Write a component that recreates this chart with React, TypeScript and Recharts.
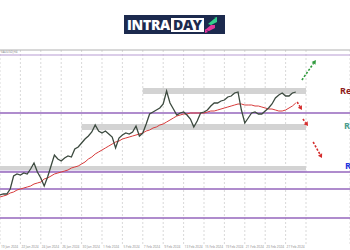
import {
  ComposedChart,
  CartesianGrid,
  Line,
  ReferenceArea,
  ReferenceLine,
  XAxis,
  YAxis,
} from "recharts";

// closes (one value per bar)
const closes = [
  1850, 1851, 1851, 1856, 1869, 1871, 1870, 1872, 1871, 1876, 1882, 1873,
  1867, 1859, 1868, 1879, 1890, 1886, 1884, 1887, 1889, 1888, 1896, 1898,
  1902, 1906, 1909, 1913, 1920, 1914, 1912, 1914, 1911, 1908, 1897, 1907,
  1910, 1912, 1911, 1913, 1919, 1909, 1912, 1921, 1931, 1933, 1935, 1937,
  1941, 1954, 1942, 1936, 1930, 1932, 1933, 1930, 1926, 1918, 1924, 1932,
  1933, 1935, 1939, 1942, 1942, 1944, 1945, 1948, 1949, 1952, 1953, 1935,
  1922, 1927, 1932, 1933, 1931, 1931, 1934, 1937, 1941, 1947, 1950, 1952,
  1949, 1949, 1952, 1953,
];

// moving average (red)
const movingAvg = [
  1848, 1849, 1850, 1852, 1853, 1855, 1856, 1857, 1858, 1859, 1861, 1862,
  1863, 1866, 1867, 1869, 1871, 1872, 1873, 1874, 1875, 1877, 1878, 1879,
  1881, 1883, 1886, 1888, 1891, 1893, 1895, 1897, 1899, 1901, 1903, 1904,
  1906, 1907, 1908, 1909, 1910, 1911, 1912, 1914, 1915, 1917, 1918, 1920,
  1921, 1923, 1925, 1927, 1929, 1930, 1931, 1931, 1932, 1932, 1932, 1932,
  1932, 1933, 1934, 1934, 1935, 1936, 1937, 1938, 1939, 1940, 1941, 1941,
  1940, 1940, 1940, 1939, 1939, 1938, 1937, 1936, 1936, 1935, 1934, 1934,
  1935, 1937, 1939, 1942,
];

const dateLabels = [
  "19 Jan 2024", "22 Jan 2024", "24 Jan 2024", "26 Jan 2024", "30 Jan 2024",
  "1 Feb 2024", "5 Feb 2024", "7 Feb 2024", "9 Feb 2024", "13 Feb 2024",
  "15 Feb 2024", "19 Feb 2024", "21 Feb 2024", "23 Feb 2024", "27 Feb 2024",
];
const tickBars = [0, 6, 12, 18, 24, 30, 36, 42, 48, 54, 60, 66, 72, 78, 84, 90];

// horizontal levels (purple)
const levels = [1990, 1932, 1873, 1856, 1827];

// grey zones: from bar, low, high
const zoneFrom = [42, 24, 0];
const zoneLow = [1951, 1915, 1875];
const zoneHigh = [1957, 1921, 1879];

// projected moves: bar / price start -> end
const arrowDir = ["up", "down", "down", "down"];
const arrowFrom = [
  [88.8, 1965],
  [87.4, 1943],
  [89.1, 1926],
  [92.1, 1903],
];
const arrowTo = [
  [92.9, 1985],
  [88.8, 1935],
  [90.6, 1919],
  [94.7, 1887],
];

const data = closes.map((c, i) => ({ i, close: c, ma: movingAvg[i] }));

function Arrow(props: any) {
  const { x1, y1, x2, y2, color } = props;
  if (x1 == null || x2 == null) return null;
  const a = Math.atan2(y2 - y1, x2 - x1);
  const h = 4;
  const bx = x2 - Math.cos(a) * h;
  const by = y2 - Math.sin(a) * h;
  const px = Math.cos(a + Math.PI / 2) * 2.4;
  const py = Math.sin(a + Math.PI / 2) * 2.4;
  return (
    <g>
      <line
        x1={x1}
        y1={y1}
        x2={bx}
        y2={by}
        stroke={color}
        strokeWidth={1.6}
        strokeDasharray="2.2 1.6"
      />
      <polygon
        points={`${x2},${y2} ${bx + px},${by + py} ${bx - px},${by - py}`}
        fill={color}
      />
    </g>
  );
}

function DateTick(props: any) {
  const { x, y, index } = props;
  const label = dateLabels[index];
  if (!label) return null;
  return (
    <text x={x + 1} y={y + 3.4} fontSize={3.2} fill="#8a8a8a" textAnchor="start">
      {label}
    </text>
  );
}

function Logo() {
  return (
    <div
      style={{
        position: "absolute",
        left: 124,
        top: 15,
        width: 101,
        height: 19,
        background: "#1c2a4e",
        display: "flex",
        alignItems: "center",
        fontFamily: "'Open Sans', sans-serif",
        fontWeight: 800,
        fontSize: 14,
        letterSpacing: -0.3,
      }}
    >
      <span style={{ color: "#fff", marginLeft: 3, lineHeight: "19px" }}>
        INTRA
      </span>
      <span
        style={{
          color: "#1c2a4e",
          background: "#fff",
          padding: "0 2px",
          lineHeight: "14px",
          height: 14,
          marginLeft: 1,
        }}
      >
        DAY
      </span>
      <svg width={12} height={16} style={{ marginLeft: 1 }}>
        <polygon points="3,7 9,2 12,2 12,5 6,8" fill="#35d08c" />
        <polygon points="9,1 12,0 12,3" fill="#35d08c" />
        <polygon points="0,13 6,8 10,8 10,11 4,14" fill="#e4359c" />
        <polygon points="0,12 0,16 3,15" fill="#e4359c" />
      </svg>
    </div>
  );
}

export default function App() {
  const labels = [
    { text: "Resistance 2", color: "#8e1c1c", top: 86, left: 340 },
    { text: "Resistance 1", color: "#4c9c8c", top: 121, left: 344 },
    { text: "Resistance", color: "#2233dd", top: 161, left: 345 },
  ];
  return (
    <div
      style={{
        position: "fixed",
        left: 0,
        top: 0,
        width: 350,
        height: 250,
        overflow: "hidden",
        background: "#fff",
        fontFamily: "'Open Sans', sans-serif",
      }}
    >
      <Logo />
      <div
        style={{
          position: "absolute",
          left: 1,
          top: 51,
          fontSize: 3,
          color: "#777",
          lineHeight: "3px",
        }}
      >
        XAUUSD,H4
      </div>
      <ComposedChart
        width={350}
        height={250}
        data={data}
        margin={{ top: 50, right: 0, left: 0, bottom: 0 }}
      >
        <CartesianGrid
          horizontal={false}
          stroke="#c9c9c9"
          strokeDasharray="2 2"
          strokeWidth={0.7}
        />
        <XAxis
          dataKey="i"
          type="number"
          domain={[0, 102.94]}
          ticks={tickBars}
          interval={0}
          height={5}
          tickSize={0}
          tickMargin={0}
          axisLine={false}
          tickLine={false}
          tick={<DateTick />}
          allowDataOverflow
        />
        <YAxis hide domain={[1800, 1995]} allowDataOverflow />
        {zoneFrom.map((x, k) => (
          <ReferenceArea
            key={"z" + k}
            x1={x}
            x2={90}
            y1={zoneLow[k]}
            y2={zoneHigh[k]}
            fill="#d3d3d3"
            fillOpacity={1}
            stroke="none"
          />
        ))}
        <ReferenceArea
          x1={0}
          x2={90}
          y1={1873}
          y2={1875}
          fill="#e6e0f0"
          fillOpacity={1}
          stroke="none"
        />
        <ReferenceLine y={1995} stroke="#b0b0b0" strokeWidth={1} />
        {levels.map((v, k) => (
          <ReferenceLine
            key={"l" + k}
            y={v}
            stroke={k === 0 ? "#b79bd2" : "#9466bd"}
            strokeWidth={k === 0 ? 1 : 1.3}
          />
        ))}
        <Line
          dataKey="ma"
          stroke="#d83c3c"
          strokeWidth={1}
          dot={false}
          isAnimationActive={false}
        />
        <Line
          dataKey="close"
          stroke="#3c4a3f"
          strokeWidth={1.3}
          dot={false}
          isAnimationActive={false}
        />
        {arrowFrom.map((f, k) => (
          <ReferenceLine
            key={"a" + k}
            segment={[
              { x: f[0], y: f[1] },
              { x: arrowTo[k][0], y: arrowTo[k][1] },
            ]}
            shape={(p: any) => (
              <Arrow
                {...p}
                color={arrowDir[k] === "up" ? "#2f9a3c" : "#d42c2c"}
              />
            )}
          />
        ))}
      </ComposedChart>
      {labels.map((l) => (
        <div
          key={l.text}
          style={{
            position: "absolute",
            left: l.left,
            top: l.top,
            color: l.color,
            fontWeight: 700,
            fontSize: 9,
            whiteSpace: "nowrap",
            lineHeight: "10px",
          }}
        >
          {l.text}
        </div>
      ))}
    </div>
  );
}
